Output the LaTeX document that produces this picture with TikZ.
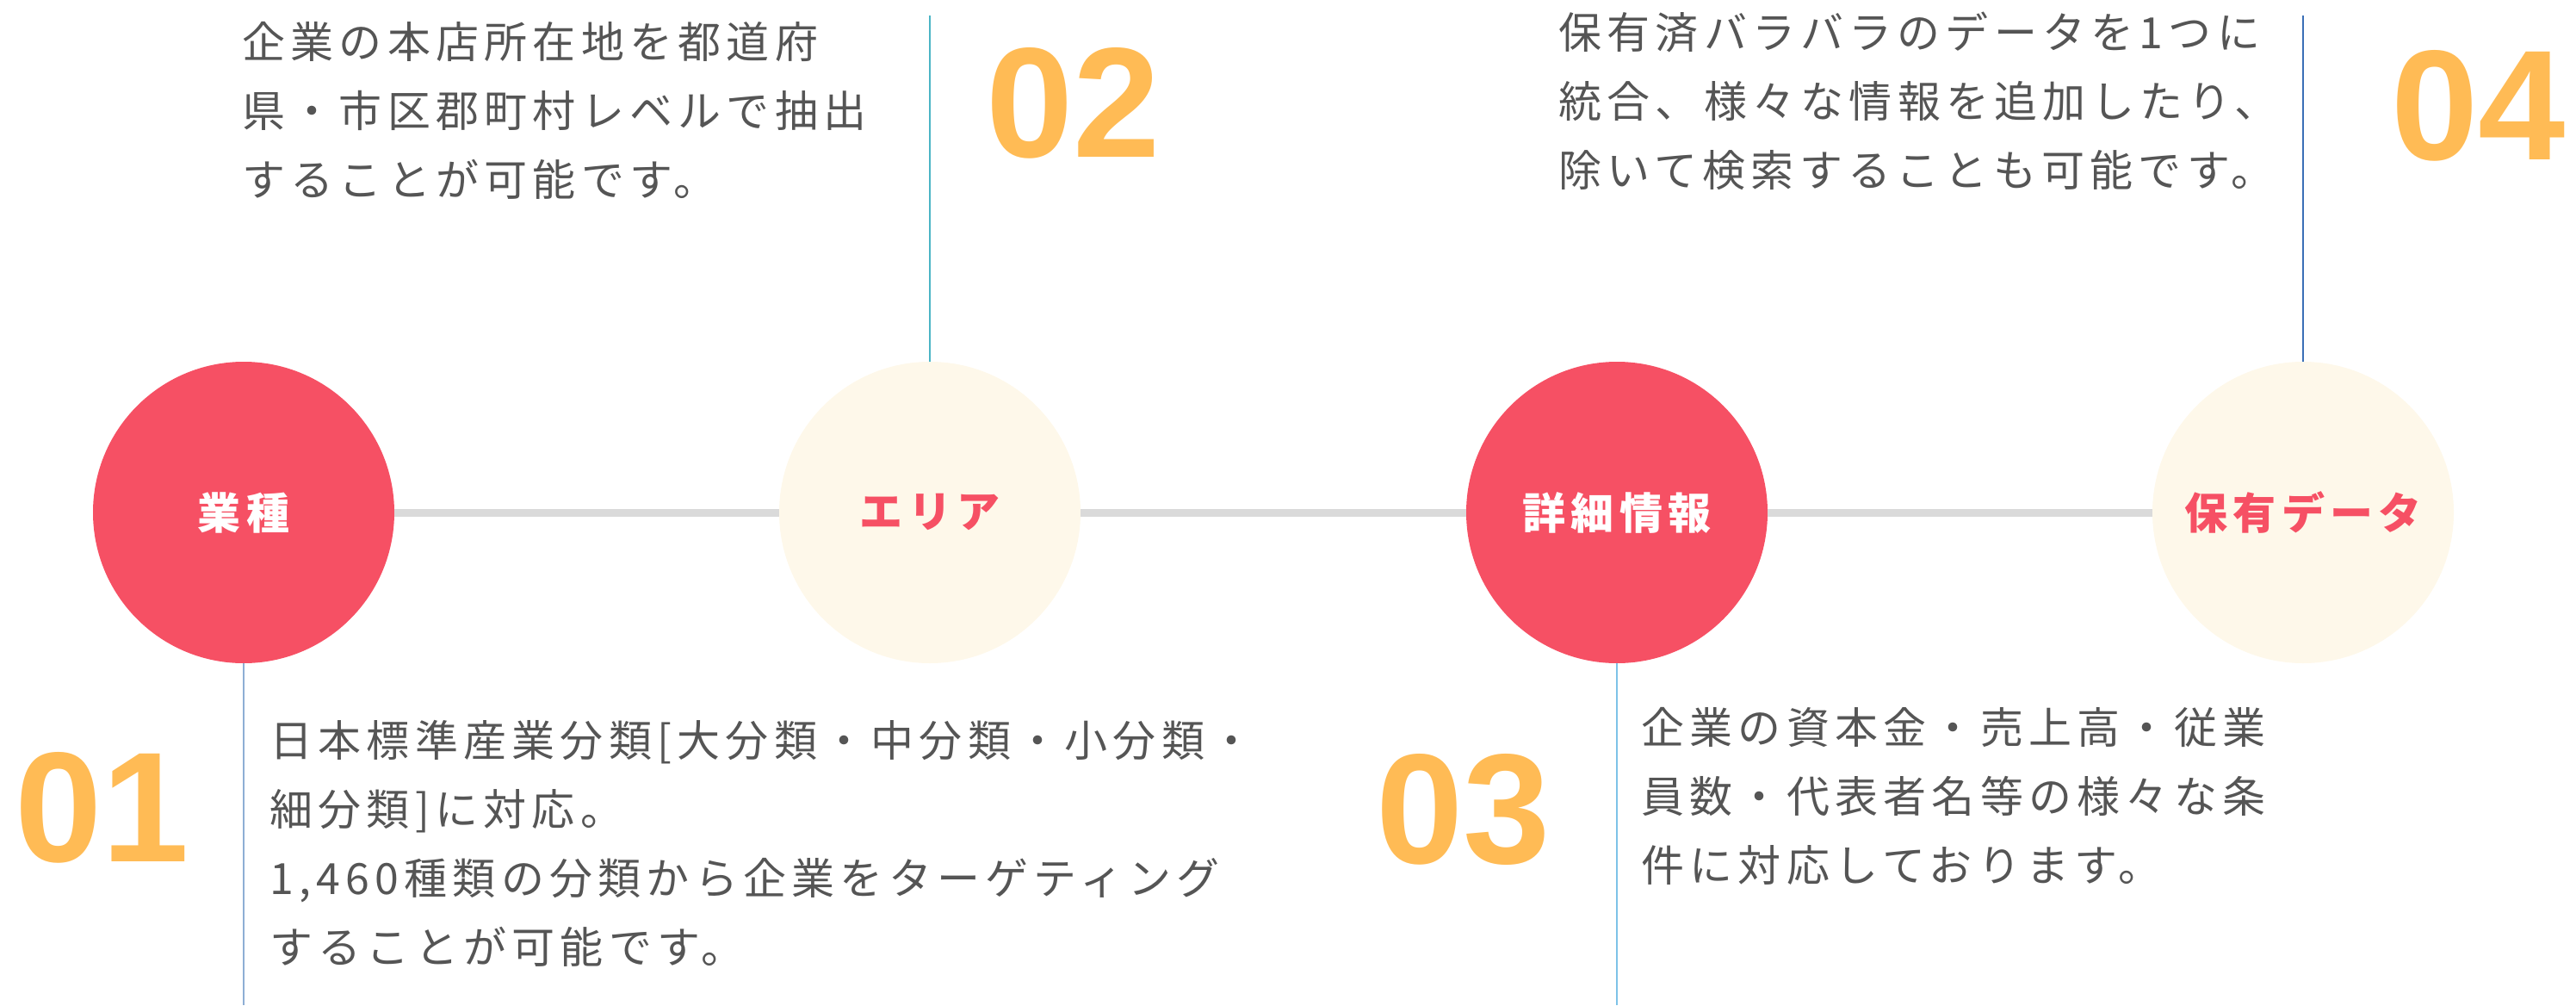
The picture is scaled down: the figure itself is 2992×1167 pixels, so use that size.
\documentclass[tikz,border=0pt]{standalone}
\usepackage{fontspec}
\setmainfont{Noto Sans CJK JP}[LetterSpace=12.5]
\newfontfamily\numfont{Liberation Sans}
\definecolor{hubred}{HTML}{F65064}
\definecolor{hubcream}{HTML}{FEF8EA}
\definecolor{numorange}{HTML}{FFBB55}
\definecolor{bodygray}{HTML}{555555}
\definecolor{railgray}{HTML}{DADADA}
\definecolor{stemA}{HTML}{8EAED4}
\definecolor{stemB}{HTML}{4BB5C5}
\definecolor{stemC}{HTML}{7DC3E8}
\definecolor{stemD}{HTML}{3B6FB6}

\tikzstyle{hub}=[circle,minimum size=175pt,inner sep=0pt,font=\bfseries\fontsize{25}{25}\selectfont]
\tikzstyle{hub red}=[hub,fill=hubred,text=white]
\tikzstyle{hub cream}=[hub,fill=hubcream,text=hubred]
\tikzstyle{rail}=[draw,railgray,line width=4.5pt]
\tikzstyle{stem}=[draw,line width=1.3pt]
\tikzstyle{desc}=[anchor=north west,inner sep=0pt,align=left,text=bodygray,font=\fontsize{25}{40}\selectfont]
\tikzstyle{num}=[anchor=base west,inner sep=0pt,text=numorange,font=\numfont\bfseries\fontsize{91}{91}\selectfont]

\begin{document}
\begin{tikzpicture}[x=0.5pt,y=-0.5pt]
\useasboundingbox (0,0) rectangle (2992,1167);
\foreach \pos/\name/\txt/\isred in {{(283,595)/ind/業種/1}, {(1080,595)/area/エリア/0},
                                   {(1878,595)/det/詳細情報/1}, {(2675,595)/data/保有データ/0}}{
  \ifnum\isred=1
  \node[hub red] (\name) at \pos {\txt};
  \else
  \node[hub cream] (\name) at \pos {\txt};
  \fi
}
\foreach \source/\dest in {ind/area, area/det, det/data}{
  \path[rail] (\source) -- (\dest);
}
% stems up and down
\coordinate (ind end) at (283,1167);
\coordinate (area top) at (1080,18);
\coordinate (det end) at (1878,1167);
\coordinate (data top) at (2675,18);
\path[stem,stemA] (ind) -- (ind end);
\path[stem,stemB] (area) -- (area top);
\path[stem,stemC] (det) -- (det end);
\path[stem,stemD] (data) -- (data top);
% numbers
\node[num] (ind num) at (17,1000) {01};
\node[num] (area num) at (1145,182) {02};
\node[num] (det num) at (1598,1002) {03};
\node[num] (data num) at (2777,185) {04};
% texts
\node[desc] (ind text) at (313,836) {日本標準産業分類[大分類・中分類・小分類・\\細分類]に対応。\\1,460種類の分類から企業をターゲティング\\することが可能です。};
\node[desc] (area text) at (281,25) {企業の本店所在地を都道府\\県・市区郡町村レベルで抽出\\することが可能です。};
\node[desc] (det text) at (1906,821) {企業の資本金・売上高・従業\\員数・代表者名等の様々な条\\件に対応しております。};
\node[desc] (data text) at (1810,13) {保有済バラバラのデータを1つに\\統合、様々な情報を追加したり、\\除いて検索することも可能です。};
\end{tikzpicture}
\end{document}
